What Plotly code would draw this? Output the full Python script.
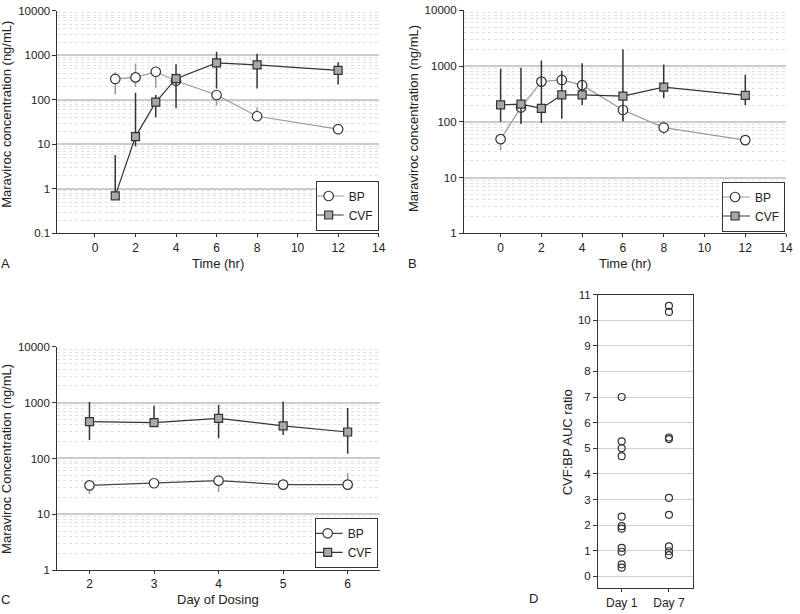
import plotly.graph_objects as go

# ---------------- data ----------------
a_time = [1, 2, 3, 4, 6, 8, 12]
a_bp = [296, 321, 429, 270, 129, 43, 22]
a_bp_hi = [418, 654, 429, 270, 129, 68, 22]
a_bp_lo = [133, 194, 187, 270, 74, 43, 22]
a_cvf = [0.70, 15, 89, 300, 677, 612, 459]
a_cvf_hi = [5.8, 145, 129, 633, 1205, 1090, 700]
a_cvf_lo = [0.70, 9.1, 41, 65, 181, 181, 222]

b_time = [0, 1, 2, 3, 4, 6, 8, 12]
b_bp = [49, 181, 526, 563, 454, 163, 79, 47]
b_bp_hi = [49, 181, 526, 563, 454, 163, 104, 47]
b_bp_lo = [31, 92, 526, 563, 454, 102, 60, 47]
b_cvf = [202, 207, 174, 303, 303, 290, 418, 299]
b_cvf_hi = [890, 930, 1250, 822, 1120, 2000, 1070, 700]
b_cvf_lo = [100, 92, 95, 114, 199, 102, 264, 199]

c_day = [2, 3, 4, 5, 6]
c_bp = [33, 36, 40, 34, 34]
c_bp_hi = [33, 36, 40, 34, 55]
c_bp_lo = [23, 36, 25, 27, 34]
c_cvf = [458, 440, 523, 385, 298]
c_cvf_hi = [1030, 885, 922, 1050, 806]
c_cvf_lo = [215, 440, 230, 263, 122]

d_day1 = [7.0, 5.27, 5.0, 4.69, 2.33, 1.96, 1.86, 1.11, 0.96, 0.47, 0.34]
d_day7 = [10.56, 10.32, 5.42, 5.36, 3.06, 2.40, 1.17, 0.98, 0.83]
d_categories = ["Day 1", "Day 7"]

log_tickvals_a = [0.1, 1, 10, 100, 1000, 10000]
log_ticktext_a = ["0.1", "1", "10", "100", "1000", "10000"]
log_tickvals_bc = [1, 10, 100, 1000, 10000]
log_ticktext_bc = ["1", "10", "100", "1000", "10000"]
time_ticks = [0, 2, 4, 6, 8, 10, 12, 14]
day_ticks = [2, 3, 4, 5, 6]
ratio_ticks = list(range(0, 12))

FONT = "Liberation Sans, Arial, sans-serif"
BP_LINE = "#9a9a9a"
CVF_LINE = "#333333"


def W(px):
    return px / 800.0


def H(py):
    return 1 - py / 614.0


def err(v, hi, lo):
    return dict(type="data", symmetric=False,
                array=[h - x for h, x in zip(hi, v)],
                arrayminus=[x - l for x, l in zip(v, lo)],
                width=0, thickness=1.5)


fig = go.Figure()


def add_pair(xs, bp, bphi, bplo, cvf, cvfhi, cvflo, xa, ya, leg, bp_line):
    e1 = err(bp, bphi, bplo)
    e1["color"] = BP_LINE
    fig.add_trace(go.Scatter(
        x=xs, y=bp, mode="lines+markers", name="BP", xaxis=xa, yaxis=ya,
        legend=leg, error_y=e1,
        line=dict(color=bp_line, width=1.2),
        marker=dict(symbol="circle", size=9.5, color="white",
                    line=dict(color="#333333", width=1.2))))
    e2 = err(cvf, cvfhi, cvflo)
    e2["color"] = CVF_LINE
    fig.add_trace(go.Scatter(
        x=xs, y=cvf, mode="lines+markers", name="CVF", xaxis=xa, yaxis=ya,
        legend=leg, error_y=e2,
        line=dict(color=CVF_LINE, width=1.2),
        marker=dict(symbol="square", size=8, color="#a8a8a8",
                    line=dict(color="#333333", width=1.2))))


add_pair(a_time, a_bp, a_bp_hi, a_bp_lo, a_cvf, a_cvf_hi, a_cvf_lo, "x", "y", "legend", BP_LINE)
add_pair(b_time, b_bp, b_bp_hi, b_bp_lo, b_cvf, b_cvf_hi, b_cvf_lo, "x2", "y2", "legend2", BP_LINE)
add_pair(c_day, c_bp, c_bp_hi, c_bp_lo, c_cvf, c_cvf_hi, c_cvf_lo, "x3", "y3", "legend3", "#444444")

fig.add_trace(go.Scatter(
    x=[d_categories[0]] * len(d_day1) + [d_categories[1]] * len(d_day7),
    y=d_day1 + d_day7, mode="markers", xaxis="x4", yaxis="y4", showlegend=False,
    marker=dict(symbol="circle-open", size=7, color="#333333", line=dict(width=1.2))))

tickfont = dict(family=FONT, size=11.5, color="#222")

common_x = dict(showline=True, linecolor="#333", linewidth=1, ticks="outside",
                ticklen=3, tickcolor="#333", showgrid=False, zeroline=False,
                tickfont=dict(family=FONT, size=12, color="#222"))
common_ylog = dict(type="log", showline=True, linecolor="#333", linewidth=1,
                   ticks="outside", ticklen=4, tickcolor="#333", showgrid=True,
                   gridcolor="#cccccc", gridwidth=1.6, zeroline=False,
                   tickfont=tickfont,
                   minor=dict(dtick="D1", showgrid=True, gridcolor="#e0e0e0",
                              griddash="dot", gridwidth=1, ticklen=0))

legend_style = dict(bgcolor="white", bordercolor="#333", borderwidth=1,
                    font=dict(family=FONT, size=12, color="#222"),
                    xanchor="right", yanchor="bottom", tracegroupgap=0,
                    itemwidth=30, indentation=-8)

fig.update_layout(
    width=800, height=614, margin=dict(l=0, r=0, t=0, b=0),
    paper_bgcolor="white", plot_bgcolor="white",
    font=dict(family=FONT, size=12, color="#222"),
    xaxis=dict(common_x, domain=[W(58), W(382)], range=[-1.85, 14],
               tickvals=time_ticks, anchor="y"),
    yaxis=dict(common_ylog, domain=[H(232), H(5)], range=[-1, 4],
               tickvals=log_tickvals_a, ticktext=log_ticktext_a, anchor="x"),
    xaxis2=dict(common_x, domain=[W(468), W(793)], range=[-1.8, 14],
                tickvals=time_ticks, anchor="y2"),
    yaxis2=dict(common_ylog, domain=[H(232), H(4.3)], range=[0, 4],
                tickvals=log_tickvals_bc, ticktext=log_ticktext_bc, anchor="x2"),
    xaxis3=dict(common_x, domain=[W(57.7), W(383.3)], range=[1.5, 6.5],
                tickvals=day_ticks, anchor="y3"),
    yaxis3=dict(common_ylog, domain=[H(575.3), H(347.7)], range=[0, 4],
                tickvals=log_tickvals_bc, ticktext=log_ticktext_bc, anchor="x3"),
    xaxis4=dict(showline=True, linecolor="#333", linewidth=1, mirror=True,
                ticks="outside", ticklen=3, tickcolor="#333", showgrid=False,
                type="category", categoryarray=d_categories, range=[-0.5, 1.5],
                tickfont=dict(family=FONT, size=12, color="#222"),
                domain=[W(603.3), W(698.7)], anchor="y4"),
    yaxis4=dict(showline=True, linecolor="#333", linewidth=1, mirror=True,
                ticks="outside", ticklen=4, tickcolor="#333", showgrid=True,
                gridcolor="#cfcfcf", gridwidth=1.4, zeroline=False,
                range=[-0.47, 11], tickvals=ratio_ticks, tickfont=tickfont,
                domain=[H(594), H(294.3)], anchor="x4"),
    legend=dict(legend_style, x=W(382), y=H(229)),
    legend2=dict(legend_style, x=W(792), y=H(230)),
    legend3=dict(legend_style, x=W(381), y=H(573)),
)

ann_font = dict(family=FONT, size=13, color="#222")
annotations = [
    dict(text="Maraviroc concentration (ng/mL)", x=W(7), y=H(110), textangle=-90),
    dict(text="Time (hr)", x=W(220), y=H(263)),
    dict(text="A", x=W(6), y=H(263)),
    dict(text="Maraviroc concentration (ng/mL)", x=W(417), y=H(115), textangle=-90),
    dict(text="Time (hr)", x=W(631), y=H(263)),
    dict(text="B", x=W(416), y=H(263)),
    dict(text="Maraviroc Concentration (ng/mL)", x=W(7), y=H(462), textangle=-90),
    dict(text="Day of Dosing", x=W(220), y=H(605)),
    dict(text="C", x=W(6), y=H(605)),
    dict(text="CVF:BP AUC ratio", x=W(572), y=H(445), textangle=-90),
    dict(text="D", x=W(538), y=H(604)),
]
for a in annotations:
    a.update(xref="paper", yref="paper", showarrow=False, font=ann_font,
             xanchor="center", yanchor="middle")
fig.update_layout(annotations=annotations)

fig.write_html(
    "out.html",
    config={"displayModeBar": False},
    post_script="document.body.style.margin='0';document.body.style.overflow='hidden';",
)
